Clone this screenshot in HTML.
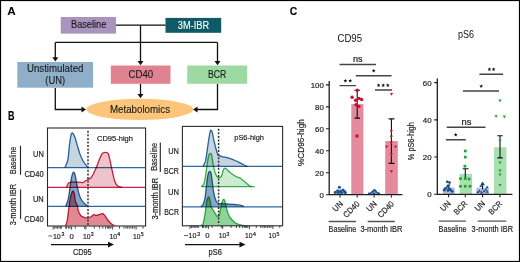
<!DOCTYPE html>
<html><head><meta charset="utf-8">
<style>
html,body{margin:0;padding:0;background:#fff;}
svg{display:block;font-family:"Liberation Sans",sans-serif;}
.m{mix-blend-mode:multiply;}
text{stroke:#222;stroke-width:0.18px;}
text.n{stroke:none;}
text.a{stroke:#1a1a1a;stroke-width:0.12px;}
text.w{stroke:#fff;stroke-width:0.1px;}
</style></head>
<body>
<svg width="520" height="262" viewBox="0 0 520 262">
<rect x="0" y="0" width="520" height="262" fill="#fff"/>

<!-- ===== Panel A ===== -->
<text class="n" x="7.3" y="14.6" font-size="11.5" font-weight="bold" textLength="8.5" lengthAdjust="spacingAndGlyphs">A</text>
<rect x="60.7" y="17" width="55.3" height="16.6" fill="#A894BD"/>
<text class="a" x="71" y="28.3" font-size="10" fill="#1a1a1a" textLength="35.3" lengthAdjust="spacingAndGlyphs">Baseline</text>
<rect x="165.5" y="17.9" width="55.7" height="14.9" fill="#0E5A66"/>
<text class="w" x="177.8" y="28.7" font-size="10" fill="#fff" textLength="31.3" lengthAdjust="spacingAndGlyphs">3M-IBR</text>

<g stroke="#111" stroke-width="1.3" fill="none">
<path d="M116 25.2H165.5M140.5 25.2V42.4M55.3 42.4H217.5M55.3 42.4V58M140.5 42.4V61.5M217.5 42.4V61.5"/>
<path d="M55.3 88V109.5H82M140.5 84V94.5M217.5 84V109.5H197"/>
</g>
<g fill="#111">
<path d="M52.3 57.3L58.3 57.3L55.3 61.6Z"/>
<path d="M137.5 61L143.5 61L140.5 65.3Z"/>
<path d="M214.5 61L220.5 61L217.5 65.3Z"/>
<path d="M137.5 94L143.5 94L140.5 98.3Z"/>
<path d="M81.5 106.5L81.5 112.5L86 109.5Z"/>
<path d="M197.5 106.5L197.5 112.5L193 109.5Z"/>
</g>

<rect x="17.3" y="62" width="75.8" height="25.7" fill="#8FAFC9"/>
<text class="a" x="27" y="72.4" font-size="10" fill="#1a1a1a" textLength="56.4" lengthAdjust="spacingAndGlyphs">Unstimulated</text>
<text class="a" x="45.3" y="83.6" font-size="10" fill="#1a1a1a" textLength="19.8" lengthAdjust="spacingAndGlyphs">(UN)</text>
<rect x="110.8" y="65.5" width="59.7" height="18.3" fill="#E08390"/>
<text class="a" x="128.5" y="78" font-size="10" fill="#1a1a1a" textLength="24.7" lengthAdjust="spacingAndGlyphs">CD40</text>
<rect x="187.2" y="65.5" width="60" height="18.3" fill="#9DD9A2"/>
<text class="a" x="208" y="78" font-size="10" fill="#1a1a1a" textLength="18.3" lengthAdjust="spacingAndGlyphs">BCR</text>

<ellipse cx="139.8" cy="109.4" rx="53.3" ry="10.6" fill="#FCC57A"/>
<text class="a" x="110" y="113.4" font-size="10.2" fill="#1a1a1a" textLength="60" lengthAdjust="spacingAndGlyphs">Metabolomics</text>

<!-- ===== Panel B ===== -->
<text x="8" y="119.7" font-size="12" font-weight="bold" textLength="6.5" lengthAdjust="spacingAndGlyphs">B</text>

<path class="m" d="M65.60 225.60 C65.87 224.75 66.67 223.35 67.20 220.50 C67.73 217.65 68.27 212.25 68.80 208.50 C69.33 204.75 69.87 200.68 70.40 198.00 C70.93 195.32 71.53 193.55 72.00 192.40 C72.47 191.25 72.80 190.83 73.20 191.10 C73.60 191.37 74.07 192.45 74.40 194.00 C74.73 195.55 74.93 198.93 75.20 200.40 C75.47 201.87 75.65 202.00 76.00 202.80 C76.35 203.60 76.90 203.85 77.30 205.20 C77.70 206.55 77.80 209.15 78.40 210.90 C79.00 212.65 79.95 214.63 80.90 215.70 C81.85 216.77 82.90 216.95 84.10 217.30 C85.30 217.65 86.90 217.93 88.10 217.80 C89.30 217.67 90.32 217.03 91.30 216.50 C92.28 215.97 93.20 214.78 94.00 214.60 C94.80 214.42 95.22 215.40 96.10 215.40 C96.98 215.40 98.23 214.90 99.30 214.60 C100.37 214.30 101.57 213.42 102.50 213.60 C103.43 213.78 103.97 214.55 104.90 215.70 C105.83 216.85 107.03 219.17 108.10 220.50 C109.17 221.83 110.23 222.85 111.30 223.70 C112.37 224.55 113.97 225.28 114.50 225.60 L114.50 225.60 L65.60 225.60 Z" fill="#E08993"/>
<path class="m" d="M65.60 225.60 C65.87 224.75 66.67 223.35 67.20 220.50 C67.73 217.65 68.27 212.25 68.80 208.50 C69.33 204.75 69.87 200.68 70.40 198.00 C70.93 195.32 71.53 193.55 72.00 192.40 C72.47 191.25 72.80 190.83 73.20 191.10 C73.60 191.37 74.07 192.45 74.40 194.00 C74.73 195.55 74.93 198.93 75.20 200.40 C75.47 201.87 75.65 202.00 76.00 202.80 C76.35 203.60 76.90 203.85 77.30 205.20 C77.70 206.55 77.80 209.15 78.40 210.90 C79.00 212.65 79.95 214.63 80.90 215.70 C81.85 216.77 82.90 216.95 84.10 217.30 C85.30 217.65 86.90 217.93 88.10 217.80 C89.30 217.67 90.32 217.03 91.30 216.50 C92.28 215.97 93.20 214.78 94.00 214.60 C94.80 214.42 95.22 215.40 96.10 215.40 C96.98 215.40 98.23 214.90 99.30 214.60 C100.37 214.30 101.57 213.42 102.50 213.60 C103.43 213.78 103.97 214.55 104.90 215.70 C105.83 216.85 107.03 219.17 108.10 220.50 C109.17 221.83 110.23 222.85 111.30 223.70 C112.37 224.55 113.97 225.28 114.50 225.60" fill="none" stroke="#CC2246" stroke-width="1.30" stroke-linejoin="round"/>
<path class="m" d="M65.60 206.40 C66.00 205.33 67.33 202.67 68.00 200.00 C68.67 197.33 69.07 193.87 69.60 190.40 C70.13 186.93 70.67 182.08 71.20 179.20 C71.73 176.32 72.32 174.22 72.80 173.10 C73.28 171.98 73.70 172.15 74.10 172.50 C74.50 172.85 74.75 173.28 75.20 175.20 C75.65 177.12 76.18 180.93 76.80 184.00 C77.42 187.07 78.10 190.93 78.90 193.60 C79.70 196.27 80.48 198.18 81.60 200.00 C82.72 201.82 84.53 203.43 85.60 204.50 C86.67 205.57 87.60 206.08 88.00 206.40 L88.00 206.40 L65.60 206.40 Z" fill="#87A8C8"/>
<path class="m" d="M65.60 206.40 C66.00 205.33 67.33 202.67 68.00 200.00 C68.67 197.33 69.07 193.87 69.60 190.40 C70.13 186.93 70.67 182.08 71.20 179.20 C71.73 176.32 72.32 174.22 72.80 173.10 C73.28 171.98 73.70 172.15 74.10 172.50 C74.50 172.85 74.75 173.28 75.20 175.20 C75.65 177.12 76.18 180.93 76.80 184.00 C77.42 187.07 78.10 190.93 78.90 193.60 C79.70 196.27 80.48 198.18 81.60 200.00 C82.72 201.82 84.53 203.43 85.60 204.50 C86.67 205.57 87.60 206.08 88.00 206.40" fill="none" stroke="#2E6A9E" stroke-width="1.30" stroke-linejoin="round"/>
<path class="m" d="M66.50 187.40 C66.82 186.72 67.55 184.17 68.40 183.30 C69.25 182.43 70.00 182.38 71.60 182.20 C73.20 182.02 76.12 182.15 78.00 182.20 C79.88 182.25 81.68 182.72 82.90 182.50 C84.12 182.28 84.37 181.43 85.30 180.90 C86.23 180.37 87.43 179.97 88.50 179.30 C89.57 178.63 90.50 178.63 91.70 176.90 C92.90 175.17 94.50 171.58 95.70 168.90 C96.90 166.22 97.83 163.35 98.90 160.80 C99.97 158.25 101.03 155.02 102.10 153.60 C103.17 152.18 104.28 152.30 105.30 152.30 C106.32 152.30 107.40 152.18 108.20 153.60 C109.00 155.02 109.38 157.73 110.10 160.80 C110.82 163.87 111.70 168.52 112.50 172.00 C113.30 175.48 113.97 179.33 114.90 181.70 C115.83 184.07 116.88 185.25 118.10 186.20 C119.32 187.15 121.52 187.20 122.20 187.40 L122.20 187.40 L66.50 187.40 Z" fill="#EEC3CB"/>
<path class="m" d="M66.50 187.40 C66.82 186.72 67.55 184.17 68.40 183.30 C69.25 182.43 70.00 182.38 71.60 182.20 C73.20 182.02 76.12 182.15 78.00 182.20 C79.88 182.25 81.68 182.72 82.90 182.50 C84.12 182.28 84.37 181.43 85.30 180.90 C86.23 180.37 87.43 179.97 88.50 179.30 C89.57 178.63 90.50 178.63 91.70 176.90 C92.90 175.17 94.50 171.58 95.70 168.90 C96.90 166.22 97.83 163.35 98.90 160.80 C99.97 158.25 101.03 155.02 102.10 153.60 C103.17 152.18 104.28 152.30 105.30 152.30 C106.32 152.30 107.40 152.18 108.20 153.60 C109.00 155.02 109.38 157.73 110.10 160.80 C110.82 163.87 111.70 168.52 112.50 172.00 C113.30 175.48 113.97 179.33 114.90 181.70 C115.83 184.07 116.88 185.25 118.10 186.20 C119.32 187.15 121.52 187.20 122.20 187.40" fill="none" stroke="#CC2246" stroke-width="1.30" stroke-linejoin="round"/>
<path class="m" d="M64.90 167.60 C65.38 166.33 67.05 163.67 67.80 160.00 C68.55 156.33 68.87 149.73 69.40 145.60 C69.93 141.47 70.47 137.28 71.00 135.20 C71.53 133.12 71.93 132.70 72.60 133.10 C73.27 133.50 74.20 135.52 75.00 137.60 C75.80 139.68 76.60 142.93 77.40 145.60 C78.20 148.27 78.87 151.07 79.80 153.60 C80.73 156.13 81.80 158.67 83.00 160.80 C84.20 162.93 86.08 165.27 87.00 166.40 C87.92 167.53 88.25 167.40 88.50 167.60 L88.50 167.60 L64.90 167.60 Z" fill="#C6D5E2"/>
<path class="m" d="M64.90 167.60 C65.38 166.33 67.05 163.67 67.80 160.00 C68.55 156.33 68.87 149.73 69.40 145.60 C69.93 141.47 70.47 137.28 71.00 135.20 C71.53 133.12 71.93 132.70 72.60 133.10 C73.27 133.50 74.20 135.52 75.00 137.60 C75.80 139.68 76.60 142.93 77.40 145.60 C78.20 148.27 78.87 151.07 79.80 153.60 C80.73 156.13 81.80 158.67 83.00 160.80 C84.20 162.93 86.08 165.27 87.00 166.40 C87.92 167.53 88.25 167.40 88.50 167.60" fill="none" stroke="#2E6A9E" stroke-width="1.30" stroke-linejoin="round"/>
<path class="m" d="M47.5 167.6H145.5M47.5 206.4H145.5" stroke="#2E6A9E" stroke-width="1.25"/>
<path class="m" d="M47.5 187.4H145.5" stroke="#CC2246" stroke-width="1.25"/>
<path class="m" d="M200.60 225.60 C201.00 225.28 202.27 225.62 203.00 223.70 C203.73 221.78 204.42 217.58 205.00 214.10 C205.58 210.62 206.03 205.48 206.50 202.80 C206.97 200.12 207.38 198.93 207.80 198.00 C208.22 197.07 208.60 196.67 209.00 197.20 C209.40 197.73 209.87 199.73 210.20 201.20 C210.53 202.67 210.60 204.67 211.00 206.00 C211.40 207.33 212.00 208.12 212.60 209.20 C213.20 210.28 213.92 211.42 214.60 212.50 C215.28 213.58 216.08 215.03 216.70 215.70 C217.32 216.37 217.77 217.03 218.30 216.50 C218.83 215.97 219.43 214.25 219.90 212.50 C220.37 210.75 220.65 208.02 221.10 206.00 C221.55 203.98 222.18 201.52 222.60 200.40 C223.02 199.28 223.25 199.30 223.60 199.30 C223.95 199.30 224.25 199.02 224.70 200.40 C225.15 201.78 225.63 205.18 226.30 207.60 C226.97 210.02 227.77 212.88 228.70 214.90 C229.63 216.92 230.57 218.23 231.90 219.70 C233.23 221.17 234.83 222.77 236.70 223.70 C238.57 224.63 241.77 224.98 243.10 225.30 C244.43 225.62 244.43 225.55 244.70 225.60 L244.70 225.60 L200.60 225.60 Z" fill="#8DD39A"/>
<path class="m" d="M200.60 225.60 C201.00 225.28 202.27 225.62 203.00 223.70 C203.73 221.78 204.42 217.58 205.00 214.10 C205.58 210.62 206.03 205.48 206.50 202.80 C206.97 200.12 207.38 198.93 207.80 198.00 C208.22 197.07 208.60 196.67 209.00 197.20 C209.40 197.73 209.87 199.73 210.20 201.20 C210.53 202.67 210.60 204.67 211.00 206.00 C211.40 207.33 212.00 208.12 212.60 209.20 C213.20 210.28 213.92 211.42 214.60 212.50 C215.28 213.58 216.08 215.03 216.70 215.70 C217.32 216.37 217.77 217.03 218.30 216.50 C218.83 215.97 219.43 214.25 219.90 212.50 C220.37 210.75 220.65 208.02 221.10 206.00 C221.55 203.98 222.18 201.52 222.60 200.40 C223.02 199.28 223.25 199.30 223.60 199.30 C223.95 199.30 224.25 199.02 224.70 200.40 C225.15 201.78 225.63 205.18 226.30 207.60 C226.97 210.02 227.77 212.88 228.70 214.90 C229.63 216.92 230.57 218.23 231.90 219.70 C233.23 221.17 234.83 222.77 236.70 223.70 C238.57 224.63 241.77 224.98 243.10 225.30 C244.43 225.62 244.43 225.55 244.70 225.60" fill="none" stroke="#3CB44F" stroke-width="1.30" stroke-linejoin="round"/>
<path class="m" d="M200.60 206.80 C201.00 206.42 202.27 205.95 203.00 204.50 C203.73 203.05 204.42 201.32 205.00 198.10 C205.58 194.88 206.03 188.95 206.50 185.20 C206.97 181.45 207.32 177.87 207.80 175.60 C208.28 173.33 208.87 172.00 209.40 171.60 C209.93 171.20 210.52 171.47 211.00 173.20 C211.48 174.93 211.82 178.65 212.30 182.00 C212.78 185.35 213.30 190.22 213.90 193.30 C214.50 196.38 215.17 198.85 215.90 200.50 C216.63 202.15 217.37 202.67 218.30 203.20 C219.23 203.73 220.03 203.57 221.50 203.70 C222.97 203.83 224.83 203.87 227.10 204.00 C229.37 204.13 232.70 204.28 235.10 204.50 C237.50 204.72 240.03 204.92 241.50 205.30 C242.97 205.68 243.50 206.55 243.90 206.80 L243.90 206.80 L200.60 206.80 Z" fill="#87A8C8"/>
<path class="m" d="M200.60 206.80 C201.00 206.42 202.27 205.95 203.00 204.50 C203.73 203.05 204.42 201.32 205.00 198.10 C205.58 194.88 206.03 188.95 206.50 185.20 C206.97 181.45 207.32 177.87 207.80 175.60 C208.28 173.33 208.87 172.00 209.40 171.60 C209.93 171.20 210.52 171.47 211.00 173.20 C211.48 174.93 211.82 178.65 212.30 182.00 C212.78 185.35 213.30 190.22 213.90 193.30 C214.50 196.38 215.17 198.85 215.90 200.50 C216.63 202.15 217.37 202.67 218.30 203.20 C219.23 203.73 220.03 203.57 221.50 203.70 C222.97 203.83 224.83 203.87 227.10 204.00 C229.37 204.13 232.70 204.28 235.10 204.50 C237.50 204.72 240.03 204.92 241.50 205.30 C242.97 205.68 243.50 206.55 243.90 206.80" fill="none" stroke="#2E6A9E" stroke-width="1.30" stroke-linejoin="round"/>
<path class="m" d="M201.40 186.50 C201.80 186.10 203.13 185.70 203.80 184.10 C204.47 182.50 204.87 179.98 205.40 176.90 C205.93 173.82 206.47 169.08 207.00 165.60 C207.53 162.12 208.07 158.00 208.60 156.00 C209.13 154.00 209.72 153.87 210.20 153.60 C210.68 153.33 211.10 153.20 211.50 154.40 C211.90 155.60 212.15 158.25 212.60 160.80 C213.05 163.35 213.52 167.15 214.20 169.70 C214.88 172.25 215.88 174.77 216.70 176.10 C217.52 177.43 218.30 177.70 219.10 177.70 C219.90 177.70 220.83 177.30 221.50 176.10 C222.17 174.90 222.57 171.83 223.10 170.50 C223.63 169.17 224.08 168.30 224.70 168.10 C225.32 167.90 226.13 168.77 226.80 169.30 C227.47 169.83 227.72 170.43 228.70 171.30 C229.68 172.17 231.37 173.57 232.70 174.50 C234.03 175.43 235.63 176.37 236.70 176.90 C237.77 177.43 238.43 177.43 239.10 177.70 C239.77 177.97 239.77 177.83 240.70 178.50 C241.63 179.17 243.23 180.50 244.70 181.70 C246.17 182.90 248.28 184.90 249.50 185.70 C250.72 186.50 251.58 186.37 252.00 186.50 L252.00 186.50 L201.40 186.50 Z" fill="#CDEBD3"/>
<path class="m" d="M201.40 186.50 C201.80 186.10 203.13 185.70 203.80 184.10 C204.47 182.50 204.87 179.98 205.40 176.90 C205.93 173.82 206.47 169.08 207.00 165.60 C207.53 162.12 208.07 158.00 208.60 156.00 C209.13 154.00 209.72 153.87 210.20 153.60 C210.68 153.33 211.10 153.20 211.50 154.40 C211.90 155.60 212.15 158.25 212.60 160.80 C213.05 163.35 213.52 167.15 214.20 169.70 C214.88 172.25 215.88 174.77 216.70 176.10 C217.52 177.43 218.30 177.70 219.10 177.70 C219.90 177.70 220.83 177.30 221.50 176.10 C222.17 174.90 222.57 171.83 223.10 170.50 C223.63 169.17 224.08 168.30 224.70 168.10 C225.32 167.90 226.13 168.77 226.80 169.30 C227.47 169.83 227.72 170.43 228.70 171.30 C229.68 172.17 231.37 173.57 232.70 174.50 C234.03 175.43 235.63 176.37 236.70 176.90 C237.77 177.43 238.43 177.43 239.10 177.70 C239.77 177.97 239.77 177.83 240.70 178.50 C241.63 179.17 243.23 180.50 244.70 181.70 C246.17 182.90 248.28 184.90 249.50 185.70 C250.72 186.50 251.58 186.37 252.00 186.50" fill="none" stroke="#3CB44F" stroke-width="1.30" stroke-linejoin="round"/>
<path class="m" d="M203.00 166.40 C203.40 165.55 204.73 163.75 205.40 161.30 C206.07 158.85 206.47 155.18 207.00 151.70 C207.53 148.22 208.07 143.75 208.60 140.40 C209.13 137.05 209.80 133.28 210.20 131.60 C210.60 129.92 210.65 130.17 211.00 130.30 C211.35 130.43 211.82 130.72 212.30 132.40 C212.78 134.08 213.30 137.72 213.90 140.40 C214.50 143.08 215.25 146.13 215.90 148.50 C216.55 150.87 217.27 153.40 217.80 154.60 C218.33 155.80 218.22 155.33 219.10 155.70 C219.98 156.07 221.50 156.40 223.10 156.80 C224.70 157.20 226.70 157.48 228.70 158.10 C230.70 158.72 232.97 159.57 235.10 160.50 C237.23 161.43 239.63 162.77 241.50 163.70 C243.37 164.63 245.30 165.65 246.30 166.10 C247.30 166.55 247.30 166.35 247.50 166.40 L247.50 166.40 L203.00 166.40 Z" fill="#C6D5E2"/>
<path class="m" d="M203.00 166.40 C203.40 165.55 204.73 163.75 205.40 161.30 C206.07 158.85 206.47 155.18 207.00 151.70 C207.53 148.22 208.07 143.75 208.60 140.40 C209.13 137.05 209.80 133.28 210.20 131.60 C210.60 129.92 210.65 130.17 211.00 130.30 C211.35 130.43 211.82 130.72 212.30 132.40 C212.78 134.08 213.30 137.72 213.90 140.40 C214.50 143.08 215.25 146.13 215.90 148.50 C216.55 150.87 217.27 153.40 217.80 154.60 C218.33 155.80 218.22 155.33 219.10 155.70 C219.98 156.07 221.50 156.40 223.10 156.80 C224.70 157.20 226.70 157.48 228.70 158.10 C230.70 158.72 232.97 159.57 235.10 160.50 C237.23 161.43 239.63 162.77 241.50 163.70 C243.37 164.63 245.30 165.65 246.30 166.10 C247.30 166.55 247.30 166.35 247.50 166.40" fill="none" stroke="#2E6A9E" stroke-width="1.30" stroke-linejoin="round"/>
<path class="m" d="M182.3 166.4H282.6M182.3 206.8H282.6" stroke="#2E6A9E" stroke-width="1.25"/>
<path class="m" d="M201.4 186.5H254.7" stroke="#3CB44F" stroke-width="1.25"/>


<rect x="47.5" y="128" width="98.1" height="98" fill="none" stroke="#2a2a2a" stroke-width="1.1"/>
<rect x="182.4" y="126.4" width="100.2" height="99.4" fill="none" stroke="#2a2a2a" stroke-width="1.1"/>
<path d="M88 130.8V225" stroke="#333" stroke-width="1.5" stroke-dasharray="2 1.55"/>
<path d="M218.6 128.8V225" stroke="#333" stroke-width="1.5" stroke-dasharray="2 1.55"/>
<path d="M53.20 226.40V229.60M71.60 226.40V229.60M85.90 226.40V229.60M112.70 226.40V229.60M136.10 226.40V229.60M54.70 226.40V228.60M56.10 226.40V228.60M57.50 226.40V228.60M59.00 226.40V228.60M60.40 226.40V228.60M61.40 226.40V228.60M65.70 226.40V228.60M66.70 226.40V228.60M68.60 226.40V228.60M70.00 226.40V228.60M75.30 226.40V228.60M84.50 226.40V228.60M94.30 226.40V228.60M99.60 226.40V228.60M102.80 226.40V228.60M105.50 226.40V228.60M107.40 226.40V228.60M108.60 226.40V228.60M109.80 226.40V228.60M111.00 226.40V228.60M119.50 226.40V228.60M124.00 226.40V228.60M126.00 226.40V228.60M127.60 226.40V228.60M129.20 226.40V228.60M130.90 226.40V228.60M132.50 226.40V228.60M134.20 226.40V228.60M143.00 226.40V228.60" stroke="#222" stroke-width="0.85"/>
<path d="M190.00 225.70V228.90M208.40 225.70V228.90M222.70 225.70V228.90M249.50 225.70V228.90M272.90 225.70V228.90M191.50 225.70V227.90M192.90 225.70V227.90M194.30 225.70V227.90M195.80 225.70V227.90M197.20 225.70V227.90M198.20 225.70V227.90M202.50 225.70V227.90M203.50 225.70V227.90M205.40 225.70V227.90M206.80 225.70V227.90M212.10 225.70V227.90M221.30 225.70V227.90M231.10 225.70V227.90M236.40 225.70V227.90M239.60 225.70V227.90M242.30 225.70V227.90M244.20 225.70V227.90M245.40 225.70V227.90M246.60 225.70V227.90M247.80 225.70V227.90M256.30 225.70V227.90M260.80 225.70V227.90M262.80 225.70V227.90M264.40 225.70V227.90M266.00 225.70V227.90M267.70 225.70V227.90M269.30 225.70V227.90M271.00 225.70V227.90M279.80 225.70V227.90" stroke="#222" stroke-width="0.85"/>
<path d="M48.40 236.00H52.30" stroke="#333" stroke-width="0.8"/>
<text x="52.90" y="238.90" font-size="8.00" fill="#222" textLength="7.90" lengthAdjust="spacingAndGlyphs">10</text>
<text x="61.60" y="236.20" font-size="5.20" fill="#222">3</text>
<text x="69.60" y="238.90" font-size="8.00" fill="#222" textLength="4.30" lengthAdjust="spacingAndGlyphs">0</text>
<text x="83.00" y="238.90" font-size="8.00" fill="#222" textLength="7.50" lengthAdjust="spacingAndGlyphs">10</text>
<text x="90.80" y="236.20" font-size="5.20" fill="#222">3</text>
<text x="109.40" y="238.90" font-size="8.00" fill="#222" textLength="7.50" lengthAdjust="spacingAndGlyphs">10</text>
<text x="117.20" y="236.20" font-size="5.20" fill="#222">4</text>
<text x="132.90" y="238.90" font-size="8.00" fill="#222" textLength="7.50" lengthAdjust="spacingAndGlyphs">10</text>
<text x="140.70" y="236.20" font-size="5.20" fill="#222">5</text>
<path d="M184.10 235.50H188.00" stroke="#333" stroke-width="0.8"/>
<text x="188.60" y="238.40" font-size="8.00" fill="#222" textLength="7.90" lengthAdjust="spacingAndGlyphs">10</text>
<text x="197.30" y="235.70" font-size="5.20" fill="#222">3</text>
<text x="205.30" y="238.40" font-size="8.00" fill="#222" textLength="4.30" lengthAdjust="spacingAndGlyphs">0</text>
<text x="218.70" y="238.40" font-size="8.00" fill="#222" textLength="7.50" lengthAdjust="spacingAndGlyphs">10</text>
<text x="226.50" y="235.70" font-size="5.20" fill="#222">3</text>
<text x="245.10" y="238.40" font-size="8.00" fill="#222" textLength="7.50" lengthAdjust="spacingAndGlyphs">10</text>
<text x="252.90" y="235.70" font-size="5.20" fill="#222">4</text>
<text x="268.60" y="238.40" font-size="8.00" fill="#222" textLength="7.50" lengthAdjust="spacingAndGlyphs">10</text>
<text x="276.40" y="235.70" font-size="5.20" fill="#222">5</text>
<path d="M51 244.6H109" stroke="#111" stroke-width="1.4"/><path d="M108 241.8L114 244.6L108 247.4Z" fill="#111"/>
<path d="M185 244.6H240.5" stroke="#111" stroke-width="1.4"/><path d="M239.5 241.8L245.5 244.6L239.5 247.4Z" fill="#111"/>
<text x="72.90" y="254.80" font-size="8.80" fill="#222" textLength="18.80" lengthAdjust="spacingAndGlyphs">CD95</text>
<text x="208.60" y="254.60" font-size="8.40" fill="#222" textLength="13.30" lengthAdjust="spacingAndGlyphs">pS6</text>
<text x="97.00" y="140.90" font-size="7.40" fill="#222" textLength="36.00" lengthAdjust="spacingAndGlyphs">CD95-high</text>
<text x="234.30" y="139.70" font-size="7.40" fill="#222" textLength="29.60" lengthAdjust="spacingAndGlyphs">pS6-high</text>
<text x="33.00" y="156.60" font-size="8.30" fill="#222" textLength="10.80" lengthAdjust="spacingAndGlyphs">UN</text>
<text x="24.40" y="176.90" font-size="8.30" fill="#222" textLength="19.40" lengthAdjust="spacingAndGlyphs">CD40</text>
<text x="32.90" y="201.60" font-size="8.30" fill="#222" textLength="10.80" lengthAdjust="spacingAndGlyphs">UN</text>
<text x="24.30" y="221.50" font-size="8.30" fill="#222" textLength="19.40" lengthAdjust="spacingAndGlyphs">CD40</text>
<text x="168.20" y="154.00" font-size="8.30" fill="#222" textLength="10.70" lengthAdjust="spacingAndGlyphs">UN</text>
<text x="164.10" y="174.20" font-size="8.30" fill="#222" textLength="14.80" lengthAdjust="spacingAndGlyphs">BCR</text>
<text x="168.00" y="194.80" font-size="8.30" fill="#222" textLength="11.00" lengthAdjust="spacingAndGlyphs">UN</text>
<text x="164.20" y="214.60" font-size="8.30" fill="#222" textLength="14.80" lengthAdjust="spacingAndGlyphs">BCR</text>
<text transform="translate(15.90 173.90) rotate(-90)" font-size="8.30" fill="#222" textLength="27.20" lengthAdjust="spacingAndGlyphs">Baseline</text>
<text transform="translate(16.10 225.30) rotate(-90)" font-size="8.30" fill="#222" textLength="41.50" lengthAdjust="spacingAndGlyphs">3-month IBR</text>
<text transform="translate(156.90 170.80) rotate(-90)" font-size="8.30" fill="#222" textLength="27.90" lengthAdjust="spacingAndGlyphs">Baseline</text>
<text transform="translate(157.50 219.60) rotate(-90)" font-size="8.30" fill="#222" textLength="41.60" lengthAdjust="spacingAndGlyphs">3-month IBR</text>
<path d="M20.5 145.7V174.7M20.6 189.5V219.1M160.3 142.4V171.9M159.9 183.9V215.6" stroke="#222" stroke-width="1.1"/>


<!-- ===== Panel C ===== -->
<text x="289.8" y="14.8" font-size="11.3" font-weight="bold" textLength="7.5" lengthAdjust="spacingAndGlyphs">C</text>

<text x="337.50" y="42.00" font-size="10.60" fill="#111" textLength="24.50" lengthAdjust="spacingAndGlyphs" class="n">CD95</text>
<rect x="333.8" y="192.28" width="12.4" height="2.42" fill="#A9C3DD"/>
<rect x="351.3" y="104.1" width="12.1" height="90.60" fill="#E48A9C"/>
<rect x="368" y="193.05" width="12.4" height="1.65" fill="#A9C3DD"/>
<rect x="385.2" y="141.1" width="12.6" height="53.60" fill="#E48A9C"/>
<path d="M357.2 90.3V118.1M354.4 90.3H360M354.4 118.1H360M391.4 118.9V163.4M388.6 118.9H394.4M388.6 163.4H394.4" stroke="#111" stroke-width="1.1"/>
<circle cx="339.40" cy="187.30" r="1.50" fill="#1C4F8E"/>
<circle cx="337.60" cy="190.70" r="1.50" fill="#1C4F8E"/>
<circle cx="343.00" cy="189.90" r="1.50" fill="#1C4F8E"/>
<circle cx="344.50" cy="191.50" r="1.50" fill="#1C4F8E"/>
<circle cx="335.30" cy="192.20" r="1.50" fill="#1C4F8E"/>
<circle cx="338.40" cy="192.60" r="1.50" fill="#1C4F8E"/>
<circle cx="341.50" cy="192.60" r="1.50" fill="#1C4F8E"/>
<circle cx="345.30" cy="192.60" r="1.50" fill="#1C4F8E"/>
<circle cx="340.50" cy="191.00" r="1.50" fill="#1C4F8E"/>
<circle cx="357.20" cy="90.30" r="1.70" fill="#C8102E"/>
<circle cx="352.10" cy="97.20" r="1.70" fill="#C8102E"/>
<circle cx="355.60" cy="100.30" r="1.70" fill="#C8102E"/>
<circle cx="359.00" cy="98.40" r="1.70" fill="#C8102E"/>
<circle cx="361.60" cy="99.50" r="1.70" fill="#C8102E"/>
<circle cx="356.00" cy="104.80" r="1.70" fill="#C8102E"/>
<circle cx="359.00" cy="106.40" r="1.70" fill="#C8102E"/>
<circle cx="357.00" cy="136.00" r="1.70" fill="#C8102E"/>
<path d="M367.60 194.19L370.40 194.19L369.00 191.81Z" fill="#1C4F8E"/>
<path d="M370.10 193.49L372.90 193.49L371.50 191.11Z" fill="#1C4F8E"/>
<path d="M371.90 191.69L374.70 191.69L373.30 189.31Z" fill="#1C4F8E"/>
<path d="M373.80 191.49L376.60 191.49L375.20 189.11Z" fill="#1C4F8E"/>
<path d="M375.10 193.19L377.90 193.19L376.50 190.81Z" fill="#1C4F8E"/>
<path d="M377.40 193.99L380.20 193.99L378.80 191.61Z" fill="#1C4F8E"/>
<path d="M372.60 193.99L375.40 193.99L374.00 191.61Z" fill="#1C4F8E"/>
<path d="M369.10 194.39L371.90 194.39L370.50 192.01Z" fill="#1C4F8E"/>
<path d="M371.10 192.69L373.90 192.69L372.50 190.31Z" fill="#1C4F8E"/>
<path d="M374.60 192.39L377.40 192.39L376.00 190.01Z" fill="#1C4F8E"/>
<path d="M376.40 194.39L379.20 194.39L377.80 192.01Z" fill="#1C4F8E"/>
<path d="M372.80 190.99L375.60 190.99L374.20 188.61Z" fill="#1C4F8E"/>
<path d="M389.90 92.94L393.10 92.94L391.50 95.66Z" fill="#C8102E"/>
<path d="M389.70 129.94L392.90 129.94L391.30 132.66Z" fill="#C8102E"/>
<path d="M389.70 135.64L392.90 135.64L391.30 138.36Z" fill="#C8102E"/>
<path d="M389.70 141.64L392.90 141.64L391.30 144.36Z" fill="#C8102E"/>
<path d="M385.10 145.64L388.30 145.64L386.70 148.36Z" fill="#C8102E"/>
<path d="M394.00 145.64L397.20 145.64L395.60 148.36Z" fill="#C8102E"/>
<path d="M389.70 153.24L392.90 153.24L391.30 155.96Z" fill="#C8102E"/>
<path d="M389.90 170.24L393.10 170.24L391.50 172.96Z" fill="#C8102E"/>
<path d="M329.2 81V195.3M328.6 194.7H402.4" stroke="#1e1e1e" stroke-width="1.3" fill="none"/>
<path d="M326 194.70H329M326 172.74H329M326 150.78H329M326 128.82H329M326 106.86H329M326 84.90H329M340.00 195.3V197.6M357.20 195.3V197.6M374.10 195.3V197.6M391.40 195.3V197.6" stroke="#1e1e1e" stroke-width="1.1"/>
<text x="323.80" y="197.70" font-size="7.90" fill="#222" text-anchor="end">0</text>
<text x="323.80" y="175.74" font-size="7.90" fill="#222" text-anchor="end">20</text>
<text x="323.80" y="153.78" font-size="7.90" fill="#222" text-anchor="end">40</text>
<text x="323.80" y="131.82" font-size="7.90" fill="#222" text-anchor="end">60</text>
<text x="323.80" y="109.86" font-size="7.90" fill="#222" text-anchor="end">80</text>
<text x="323.80" y="87.90" font-size="7.90" fill="#222" text-anchor="end">100</text>
<text transform="translate(303.70 166.10) rotate(-90)" font-size="8.30" fill="#222" textLength="47.00" lengthAdjust="spacingAndGlyphs">%CD95-high</text>
<path d="M339.5 64.5H376M355.8 75.7H391.5M339.5 85.6H356M375 90H392" stroke="#444" stroke-width="1.4"/>
<text x="352.90" y="62.10" font-size="9.00" fill="#111" textLength="9.60" lengthAdjust="spacingAndGlyphs">ns</text>
<polygon points="373.70,68.80 374.20,70.11 375.60,70.18 374.51,71.06 374.88,72.42 373.70,71.65 372.52,72.42 372.89,71.06 371.80,70.18 373.20,70.11" fill="#111"/>
<polygon points="345.40,78.80 345.90,80.11 347.30,80.18 346.21,81.06 346.58,82.42 345.40,81.65 344.22,82.42 344.59,81.06 343.50,80.18 344.90,80.11" fill="#111"/>
<polygon points="350.20,78.80 350.70,80.11 352.10,80.18 351.01,81.06 351.38,82.42 350.20,81.65 349.02,82.42 349.39,81.06 348.30,80.18 349.70,80.11" fill="#111"/>
<polygon points="378.60,83.30 379.10,84.61 380.50,84.68 379.41,85.56 379.78,86.92 378.60,86.15 377.42,86.92 377.79,85.56 376.70,84.68 378.10,84.61" fill="#111"/>
<polygon points="383.20,83.30 383.70,84.61 385.10,84.68 384.01,85.56 384.38,86.92 383.20,86.15 382.02,86.92 382.39,85.56 381.30,84.68 382.70,84.61" fill="#111"/>
<polygon points="387.80,83.30 388.30,84.61 389.70,84.68 388.61,85.56 388.98,86.92 387.80,86.15 386.62,86.92 386.99,85.56 385.90,84.68 387.30,84.61" fill="#111"/>
<text transform="translate(343.50 204.50) rotate(-45)" font-size="8.3" fill="#222" text-anchor="end" textLength="10.80" lengthAdjust="spacingAndGlyphs">UN</text>
<text transform="translate(360.20 204.50) rotate(-45)" font-size="8.3" fill="#222" text-anchor="end" textLength="19.40" lengthAdjust="spacingAndGlyphs">CD40</text>
<text transform="translate(377.40 204.50) rotate(-45)" font-size="8.3" fill="#222" text-anchor="end" textLength="10.80" lengthAdjust="spacingAndGlyphs">UN</text>
<text transform="translate(394.60 204.50) rotate(-45)" font-size="8.3" fill="#222" text-anchor="end" textLength="19.40" lengthAdjust="spacingAndGlyphs">CD40</text>
<path d="M328.6 221.5H356M367.7 221.5H394.8" stroke="#555" stroke-width="1.3"/>
<text x="328.60" y="231.60" font-size="8.60" fill="#222" textLength="27.60" lengthAdjust="spacingAndGlyphs">Baseline</text>
<text x="360.40" y="231.60" font-size="8.60" fill="#222" textLength="42.00" lengthAdjust="spacingAndGlyphs">3-month IBR</text>
<text x="458.00" y="38.30" font-size="10.40" fill="#111" textLength="16.00" lengthAdjust="spacingAndGlyphs" class="n">pS6</text>
<rect x="443" y="187.6" width="11.8" height="6.70" fill="#A9C3DD"/>
<rect x="459.6" y="173.9" width="12.4" height="20.40" fill="#A8E0B0"/>
<rect x="476.4" y="187.8" width="12.4" height="6.50" fill="#A9C3DD"/>
<rect x="494" y="147.3" width="12.4" height="47.00" fill="#A8E0B0"/>
<path d="M465.3 168.7V178M462.8 168.7H468.5M500 135.7V157.9M497.3 135.7H502.8M497.3 157.9H502.8M482.6 184.5V189.5M481 184.5H484.2M448.8 185V189M447.3 185H450.3" stroke="#111" stroke-width="1.1"/>
<circle cx="447.30" cy="181.80" r="1.40" fill="#1C4F8E"/>
<circle cx="449.50" cy="182.60" r="1.40" fill="#1C4F8E"/>
<circle cx="447.60" cy="186.40" r="1.40" fill="#1C4F8E"/>
<circle cx="445.70" cy="188.30" r="1.40" fill="#1C4F8E"/>
<circle cx="449.20" cy="188.70" r="1.40" fill="#1C4F8E"/>
<circle cx="444.20" cy="190.20" r="1.40" fill="#1C4F8E"/>
<circle cx="452.20" cy="191.40" r="1.40" fill="#1C4F8E"/>
<circle cx="448.00" cy="190.50" r="1.40" fill="#1C4F8E"/>
<circle cx="450.50" cy="190.00" r="1.40" fill="#1C4F8E"/>
<rect x="463.95" y="149.65" width="2.70" height="2.70" fill="#1FA33A"/>
<rect x="463.95" y="155.75" width="2.70" height="2.70" fill="#1FA33A"/>
<rect x="463.55" y="164.85" width="2.70" height="2.70" fill="#1FA33A"/>
<rect x="459.15" y="177.25" width="2.70" height="2.70" fill="#1FA33A"/>
<rect x="463.95" y="177.25" width="2.70" height="2.70" fill="#1FA33A"/>
<rect x="467.75" y="177.65" width="2.70" height="2.70" fill="#1FA33A"/>
<rect x="459.15" y="184.95" width="2.70" height="2.70" fill="#1FA33A"/>
<rect x="463.95" y="184.95" width="2.70" height="2.70" fill="#1FA33A"/>
<rect x="468.65" y="184.95" width="2.70" height="2.70" fill="#1FA33A"/>
<path d="M480.95 184.02L484.05 184.02L482.50 181.38Z" fill="#1C4F8E"/>
<path d="M479.25 187.02L482.35 187.02L480.80 184.38Z" fill="#1C4F8E"/>
<path d="M481.75 185.32L484.85 185.32L483.30 182.68Z" fill="#1C4F8E"/>
<path d="M485.55 188.22L488.65 188.22L487.10 185.58Z" fill="#1C4F8E"/>
<path d="M485.75 192.82L488.85 192.82L487.30 190.18Z" fill="#1C4F8E"/>
<path d="M477.95 191.82L481.05 191.82L479.50 189.18Z" fill="#1C4F8E"/>
<path d="M482.45 192.32L485.55 192.32L484.00 189.68Z" fill="#1C4F8E"/>
<path d="M476.25 193.12L479.35 193.12L477.80 190.48Z" fill="#1C4F8E"/>
<path d="M479.95 193.52L483.05 193.52L481.50 190.88Z" fill="#1C4F8E"/>
<path d="M484.25 190.82L487.35 190.82L485.80 188.18Z" fill="#1C4F8E"/>
<path d="M498.35 99.60L501.65 99.60L500.00 102.40Z" fill="#1FA33A"/>
<path d="M494.45 115.20L497.75 115.20L496.10 118.00Z" fill="#1FA33A"/>
<path d="M502.75 115.60L506.05 115.60L504.40 118.40Z" fill="#1FA33A"/>
<path d="M498.35 139.60L501.65 139.60L500.00 142.40Z" fill="#1FA33A"/>
<path d="M498.35 161.60L501.65 161.60L500.00 164.40Z" fill="#1FA33A"/>
<path d="M498.35 169.60L501.65 169.60L500.00 172.40Z" fill="#1FA33A"/>
<path d="M498.35 173.50L501.65 173.50L500.00 176.30Z" fill="#1FA33A"/>
<path d="M498.35 184.00L501.65 184.00L500.00 186.80Z" fill="#1FA33A"/>
<path d="M437.3 78.6V194.9M436.7 194.3H512.4" stroke="#1e1e1e" stroke-width="1.3" fill="none"/>
<path d="M434.2 194.30H437.3M434.2 157.07H437.3M434.2 119.83H437.3M434.2 82.60H437.3M448.60 194.9V197.2M465.30 194.9V197.2M482.60 194.9V197.2M499.90 194.9V197.2" stroke="#1e1e1e" stroke-width="1.1"/>
<text x="431.60" y="197.30" font-size="7.90" fill="#222" text-anchor="end">0</text>
<text x="431.60" y="160.07" font-size="7.90" fill="#222" text-anchor="end">20</text>
<text x="431.60" y="122.83" font-size="7.90" fill="#222" text-anchor="end">40</text>
<text x="431.60" y="85.60" font-size="7.90" fill="#222" text-anchor="end">60</text>
<text transform="translate(413.80 160.20) rotate(-90)" font-size="8.30" fill="#222" textLength="38.00" lengthAdjust="spacingAndGlyphs">% pS6-high</text>
<path d="M479.4 74.2H503.1M462.9 91H499M446.7 127.3H485.5M445.8 139.8H465.8" stroke="#444" stroke-width="1.4"/>
<text x="461.60" y="124.60" font-size="9.00" fill="#111" textLength="9.90" lengthAdjust="spacingAndGlyphs">ns</text>
<polygon points="489.40,67.30 489.90,68.61 491.30,68.68 490.21,69.56 490.58,70.92 489.40,70.15 488.22,70.92 488.59,69.56 487.50,68.68 488.90,68.61" fill="#111"/>
<polygon points="493.60,67.30 494.10,68.61 495.50,68.68 494.41,69.56 494.78,70.92 493.60,70.15 492.42,70.92 492.79,69.56 491.70,68.68 493.10,68.61" fill="#111"/>
<polygon points="481.20,84.20 481.70,85.51 483.10,85.58 482.01,86.46 482.38,87.82 481.20,87.05 480.02,87.82 480.39,86.46 479.30,85.58 480.70,85.51" fill="#111"/>
<polygon points="455.70,132.80 456.20,134.11 457.60,134.18 456.51,135.06 456.88,136.42 455.70,135.65 454.52,136.42 454.89,135.06 453.80,134.18 455.20,134.11" fill="#111"/>
<text transform="translate(451.20 204.20) rotate(-45)" font-size="8.3" fill="#222" text-anchor="end" textLength="10.80" lengthAdjust="spacingAndGlyphs">UN</text>
<text transform="translate(468.10 204.20) rotate(-45)" font-size="8.3" fill="#222" text-anchor="end" textLength="15.60" lengthAdjust="spacingAndGlyphs">BCR</text>
<text transform="translate(485.60 204.20) rotate(-45)" font-size="8.3" fill="#222" text-anchor="end" textLength="10.80" lengthAdjust="spacingAndGlyphs">UN</text>
<text transform="translate(502.80 204.20) rotate(-45)" font-size="8.3" fill="#222" text-anchor="end" textLength="15.60" lengthAdjust="spacingAndGlyphs">BCR</text>
<path d="M438.6 221.1H465.9M477.7 221.1H506.3" stroke="#555" stroke-width="1.3"/>
<text x="438.60" y="231.60" font-size="8.60" fill="#222" textLength="28.00" lengthAdjust="spacingAndGlyphs">Baseline</text>
<text x="471.60" y="231.60" font-size="8.60" fill="#222" textLength="41.40" lengthAdjust="spacingAndGlyphs">3-month IBR</text>


<rect x="0.5" y="0.5" width="519" height="261" fill="none" stroke="#000" stroke-width="1.2"/>
</svg>
</body></html>
